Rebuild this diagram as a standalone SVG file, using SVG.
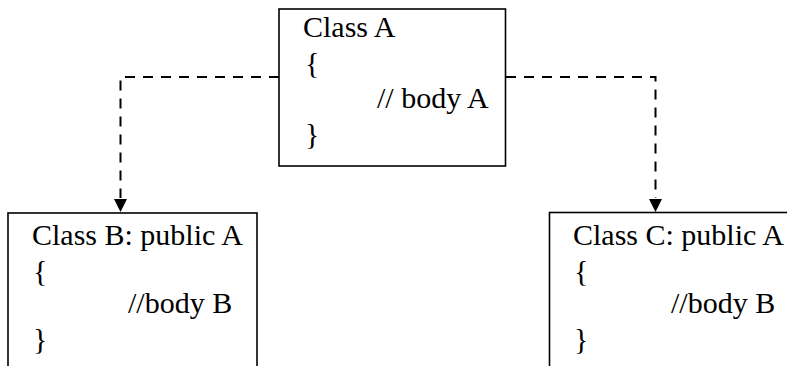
<svg xmlns="http://www.w3.org/2000/svg" width="787" height="366" viewBox="0 0 787 366">
  <style>
    .box { fill: #fff; stroke: #000; stroke-width: 1.6; }
    text { font-family: "Liberation Serif", "Times New Roman", serif; font-size: 30px; fill: #000; }
    .conn { fill: none; stroke: #000; stroke-width: 2; stroke-dasharray: 10 8; }
  </style>
  <rect width="787" height="366" fill="#fff"/>
  <g id="connectors">
    <path class="conn" d="M279,77 H120.5 V198" />
    <path d="M114,199 L127,199 L120.5,212 Z" fill="#000"/>
    <path class="conn" d="M506,77 H655.5 V198" />
    <path d="M649,199 L662,199 L655.5,212 Z" fill="#000"/>
  </g>
  <g id="classA">
    <rect class="box" x="279" y="9" width="226.5" height="157"/>
    <text x="303" y="37">Class A</text>
    <text x="305" y="73">{</text>
    <text x="377" y="108">// body A</text>
    <text x="305" y="144">}</text>
  </g>
  <g id="classB">
    <rect class="box" x="8" y="213" width="249" height="170"/>
    <text x="32" y="245">Class B: public A</text>
    <text x="33" y="281">{</text>
    <text x="128" y="313">//body B</text>
    <text x="33" y="349">}</text>
  </g>
  <g id="classC">
    <rect class="box" x="549.5" y="212.5" width="260" height="170"/>
    <text x="573" y="245">Class C: public A</text>
    <text x="574" y="281">{</text>
    <text x="671" y="313">//body B</text>
    <text x="574" y="349">}</text>
  </g>
</svg>
